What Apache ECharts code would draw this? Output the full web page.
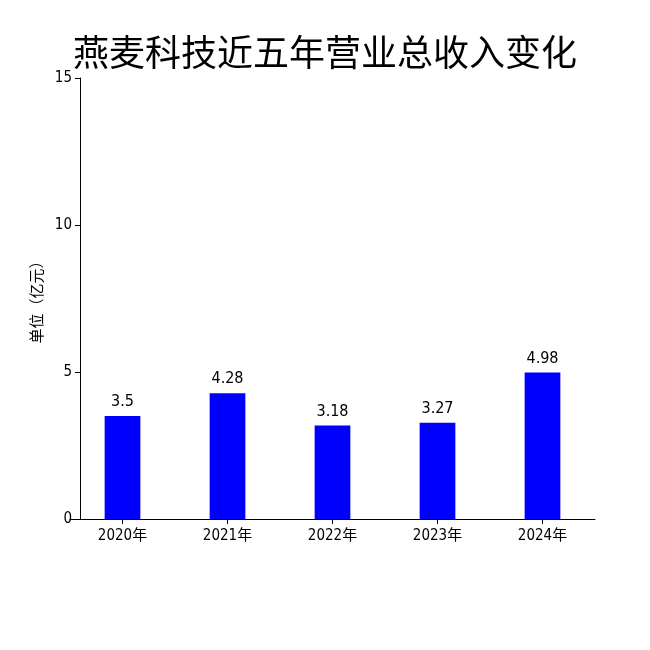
<!DOCTYPE html>
<html><head><meta charset="utf-8">
<script src="https://cdn.jsdelivr.net/npm/echarts@6/dist/echarts.min.js"></script>
<style>html,body{margin:0;padding:0;background:#fff}#c{width:650px;height:650px}</style>
</head><body><div id="c"></div>
<script>
const categories = ['2020年','2021年','2022年','2023年','2024年'];
const revenue = [3.5, 4.28, 3.18, 3.27, 4.98];
const yTicks = [0, 5, 10, 15];
const title = '燕麦科技近五年营业总收入变化';
const yName = '单位（亿元）';
const font = '"DejaVu Sans Condensed","Noto Sans CJK SC",sans-serif';
const chart = echarts.init(document.getElementById('c'));
chart.setOption({
  animation:false,
  title:{text:title,left:'center',top:29,textStyle:{fontSize:36,fontWeight:'normal',color:'#000',fontFamily:'"Noto Sans CJK SC",sans-serif'}},
  grid:{left:70,right:55,top:78,bottom:131},
  xAxis:{type:'category',data:categories,axisTick:{show:true,alignWithLabel:true,lineStyle:{color:'#000'}},
    axisLine:{lineStyle:{color:'#000'}},axisLabel:{color:'#000',fontSize:15,fontFamily:font,margin:10}},
  yAxis:{type:'value',offset:-10,min:yTicks[0],max:yTicks[yTicks.length-1],interval:5,name:yName,nameLocation:'middle',nameGap:34,
    nameTextStyle:{color:'#000',fontSize:15,fontFamily:'"Noto Sans CJK SC",sans-serif'},
    axisLine:{show:true,lineStyle:{color:'#000'}},axisTick:{show:true,lineStyle:{color:'#000'}},splitLine:{show:false},
    axisLabel:{color:'#000',fontSize:15,fontFamily:font}},
  series:[{type:'bar',data:revenue,barWidth:'34%',itemStyle:{color:'#0000ff'},
    label:{show:true,position:'top',color:'#000',fontSize:16,fontFamily:font,distance:6}}]
});
</script></body></html>
